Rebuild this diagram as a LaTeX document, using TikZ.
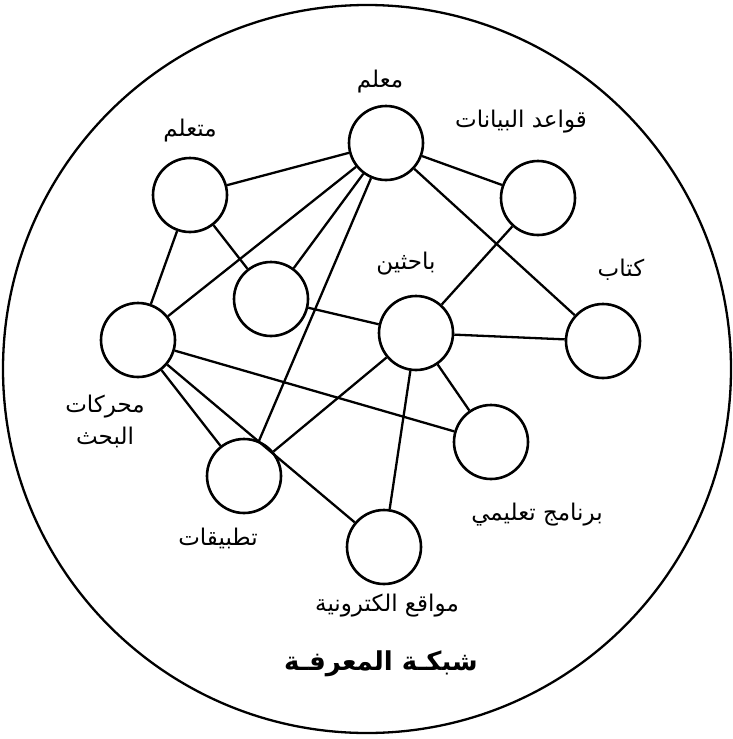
\documentclass[tikz,border=0pt]{standalone}
\usepackage{fontspec}
\newfontfamily\arabicfont[Script=Arabic]{DejaVu Sans}
\TeXXeTstate=1
\tikzset{
  hub/.style={draw=black, circle, line width=2.6pt, minimum size=74pt, inner sep=0pt},
  link/.style={draw=black, line width=2.3pt},
  rim/.style={draw=black, line width=2.3pt},
  lab/.style={font=\arabicfont\fontsize{23}{32}\selectfont, inner sep=1pt, align=center},
  ttl/.style={font=\arabicfont\bfseries\fontsize{26}{30}\selectfont, inner sep=1pt},
}
\begin{document}
\begin{tikzpicture}[x=1pt,y=-1pt]
\useasboundingbox (0,0) rectangle (733,739);
% outer ring
\draw[rim] (367,369) circle (364);
% circles
\node[hub] (teacher) at (386,143) {};
\node[hub] (learner) at (190,195) {};
\node[hub] (db) at (538,198) {};
\node[hub] (blank) at (271,299) {};
\node[hub] (researchers) at (416,333) {};
\node[hub] (book) at (603,341) {};
\node[hub] (search) at (138,340) {};
\node[hub] (program) at (491,442) {};
\node[hub] (apps) at (244,476) {};
\node[hub] (websites) at (384,547) {};
% links
\draw[link] (teacher) -- (learner);
\draw[link] (teacher) -- (search);
\draw[link] (teacher) -- (blank);
\draw[link] (teacher) -- (apps);
\draw[link] (teacher) -- (db);
\draw[link] (teacher) -- (book);
\draw[link] (learner) -- (blank);
\draw[link] (learner) -- (search);
\draw[link] (db) -- (researchers);
\draw[link] (blank) -- (researchers);
\draw[link] (researchers) -- (book);
\draw[link] (researchers) -- (apps);
\draw[link] (researchers) -- (websites);
\draw[link] (researchers) -- (program);
\draw[link] (search) -- (program);
\draw[link] (search) -- (websites);
\draw[link] (search) -- (apps);
% labels
\node[lab] (teacherlab) at (380,82) {\beginR معلم\endR};
\node[lab] (learnerlab) at (190,131) {\beginR متعلم\endR};
\node[lab] (dblab) at (521,122) {\beginR قواعد البيانات\endR};
\node[lab] (researcherslab) at (406,264) {\beginR باحثين\endR};
\node[lab] (booklab) at (621,270) {\beginR كتاب\endR};
\node[lab] (searchlab) at (105,421) {\beginR محركات\endR\\\beginR البحث\endR};
\node[lab] (programlab) at (537,515) {\beginR برنامج تعليمي\endR};
\node[lab] (appslab) at (218,538) {\beginR تطبيقات\endR};
\node[lab] (websiteslab) at (387,606) {\beginR مواقع الكترونية\endR};
\node[ttl] (title) at (381,664) {\beginR شبكـة المعرفـة\endR};
\end{tikzpicture}
\end{document}
